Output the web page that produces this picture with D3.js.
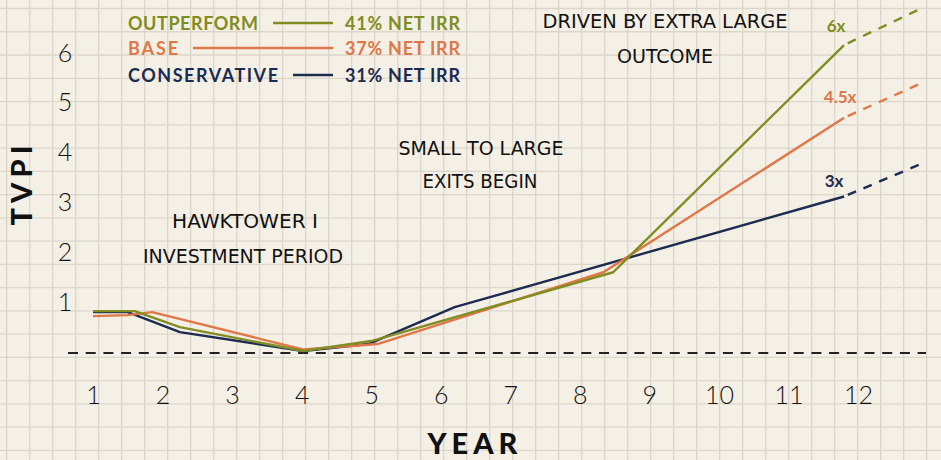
<!DOCTYPE html>
<html>
<head>
<meta charset="utf-8">
<script src="https://cdn.jsdelivr.net/npm/d3@7"></script>
<style>
  html, body { margin: 0; padding: 0; background: #f5f0e6; }
  svg { display: block; }
  .tick-label { font-family: Lato, "DejaVu Sans", sans-serif; font-weight: 300; font-size: 25px; fill: #111; }
  .legend { font-family: Lato, "DejaVu Sans", sans-serif; font-weight: 700; font-size: 18px; }
  .note { font-family: "Liberation Sans Narrow", "DejaVu Sans Condensed", sans-serif; font-size: 20px; fill: #111; }
  .axis-title { font-family: Lato, "DejaVu Sans", sans-serif; font-weight: 900; fill: #111; }
  .end-label { font-family: Lato, "DejaVu Sans", sans-serif; font-weight: 700; font-size: 17px; }
</style>
</head>
<body>
<div class="chart"></div>
<script>
// values
var yearTicks = [1, 2, 3, 4, 5, 6, 7, 8, 9, 10, 11, 12];
var tvpiTicks = [1, 2, 3, 4, 5, 6];

var outperformYears = [1, 1.6, 2.25, 4.02, 5, 8.48, 11.8];
var outperformTvpi = [0.8, 0.8, 0.48, 0, 0.2, 1.58, 6.14];
var baseYears = [1, 1.5, 1.85, 4.02, 5.09, 8.34, 11.8];
var baseTvpi = [0.7, 0.72, 0.78, 0.03, 0.14, 1.58, 4.68];
var conservativeYears = [1, 1.5, 2.25, 4.02, 4.96, 6.2, 11.8];
var conservativeTvpi = [0.78, 0.78, 0.38, 0, 0.14, 0.88, 3.1];

// projected (dashed) tails
var projectionYears = [11.8, 12.95];
var outperformProjection = [6.14, 6.9];
var baseProjection = [4.68, 5.4];
var conservativeProjection = [3.1, 3.78];

var scenarioNames = ["OUTPERFORM", "BASE", "CONSERVATIVE"];
var scenarioIrr = ["41% NET IRR", "37% NET IRR", "31% NET IRR"];
var endLabels = ["6x", "4.5x", "3x"];

var colors = ["#808d22", "#e07748", "#1b2b52"];

var width = 941, height = 460;

var svg = d3.select(".chart")
  .append("svg")
  .attr("width", width)
  .attr("height", height);

svg.append("rect")
  .attr("width", width)
  .attr("height", height)
  .attr("fill", "#f5f0e6");

// graph paper
var grid = svg.append("g").attr("stroke", "#dcd6ca").attr("stroke-width", 1.3);
d3.range(6.7, width, 23).forEach(function(x) {
  grid.append("line").attr("x1", x).attr("x2", x).attr("y1", 0).attr("y2", height);
});
d3.range(8.5, height, 23.26).forEach(function(y) {
  grid.append("line").attr("x1", 0).attr("x2", width).attr("y1", y).attr("y2", y);
});

var xScale = d3.scaleLinear().domain([1, 12]).range([93, 858]);
var yScale = d3.scaleLinear().domain([0, 6]).range([351, 52]);

// x tick labels
var xAxis = d3.axisBottom(xScale).tickValues(yearTicks).tickFormat(d3.format("d")).tickSize(0).tickPadding(0);
var gx = svg.append("g")
  .attr("transform", "translate(0,386)")
  .call(xAxis);
gx.select(".domain").remove();
gx.selectAll("text").attr("class", "tick-label").attr("dy", "0.72em").attr("font-size", null).attr("font-family", null).attr("fill", null);

// y tick labels
var yAxis = d3.axisLeft(yScale).tickValues(tvpiTicks).tickFormat(d3.format("d")).tickSize(0).tickPadding(0);
var gy = svg.append("g")
  .attr("transform", "translate(65,0)")
  .call(yAxis);
gy.select(".domain").remove();
gy.selectAll("text").attr("class", "tick-label").attr("text-anchor", "middle").attr("dy", "0.36em").attr("font-size", null).attr("font-family", null).attr("fill", null);

// dashed zero line
svg.append("line")
  .attr("x1", 68).attr("x2", 926)
  .attr("y1", yScale(0) + 2).attr("y2", yScale(0) + 2)
  .attr("stroke", "#222")
  .attr("stroke-width", 2)
  .attr("stroke-dasharray", "10,7.7");

var line = d3.line()
  .x(function(d) { return xScale(d[0]); })
  .y(function(d) { return yScale(d[1]); });

var series = [
  { years: conservativeYears, tvpi: conservativeTvpi, proj: conservativeProjection, color: colors[2] },
  { years: baseYears, tvpi: baseTvpi, proj: baseProjection, color: colors[1] },
  { years: outperformYears, tvpi: outperformTvpi, proj: outperformProjection, color: colors[0] }
];

series.forEach(function(s) {
  svg.append("path")
    .attr("d", line(d3.zip(s.years, s.tvpi)))
    .attr("fill", "none")
    .attr("stroke", s.color)
    .attr("stroke-width", 2.4)
    .attr("stroke-linejoin", "round");
  svg.append("path")
    .attr("d", line(d3.zip(projectionYears, s.proj)))
    .attr("fill", "none")
    .attr("stroke", s.color)
    .attr("stroke-width", 2.4)
    .attr("stroke-dasharray", "9,8")
    .attr("stroke-dashoffset", -4);
});

// end labels
var endOffsets = [[-8, -19], [-4, -21], [-10, -15]];
var endValues = [outperformTvpi[6], baseTvpi[6], conservativeTvpi[6]];
endLabels.forEach(function(t, i) {
  svg.append("text")
    .attr("class", "end-label")
    .attr("x", xScale(projectionYears[0]) + endOffsets[i][0])
    .attr("y", yScale(endValues[i]) + endOffsets[i][1])
    .attr("dy", "0.35em")
    .attr("text-anchor", "middle")
    .attr("fill", colors[i])
    .text(t);
});

// legend
var legendY = [30, 55, 82];
var nameWidths = [130, 50, 150];
scenarioNames.forEach(function(name, i) {
  svg.append("text")
    .attr("class", "legend")
    .attr("x", 128).attr("y", legendY[i])
    .attr("fill", colors[i])
    .attr("textLength", nameWidths[i])
    .attr("lengthAdjust", "spacing")
    .text(name);
  svg.append("line")
    .attr("x1", 128 + nameWidths[i] + 15).attr("x2", 333)
    .attr("y1", legendY[i] - 7).attr("y2", legendY[i] - 7)
    .attr("stroke", colors[i])
    .attr("stroke-width", 2.4);
  svg.append("text")
    .attr("class", "legend")
    .attr("x", 345).attr("y", legendY[i])
    .attr("fill", colors[i])
    .attr("textLength", 115)
    .attr("lengthAdjust", "spacing")
    .text(scenarioIrr[i]);
});

// hand written notes
var notes = [
  { t: "DRIVEN BY EXTRA LARGE", x: 665, y: 28, w: 245 },
  { t: "OUTCOME", x: 665, y: 63, w: 96 },
  { t: "SMALL TO LARGE", x: 481, y: 155, w: 165 },
  { t: "EXITS BEGIN", x: 480, y: 188, w: 115 },
  { t: "HAWKTOWER I", x: 245, y: 228, w: 146 },
  { t: "INVESTMENT PERIOD", x: 243, y: 263, w: 200 }
];
notes.forEach(function(n) {
  svg.append("text")
    .attr("class", "note")
    .attr("x", n.x - n.w / 2).attr("y", n.y)
    .attr("textLength", n.w)
    .attr("lengthAdjust", "spacingAndGlyphs")
    .text(n.t);
});

// axis titles
svg.append("text")
  .attr("class", "axis-title")
  .attr("transform", "translate(32,183) rotate(-90)")
  .attr("text-anchor", "middle")
  .attr("font-size", 29)
  .attr("letter-spacing", 5)
  .text("TVPI");

svg.append("text")
  .attr("class", "axis-title")
  .attr("x", 475).attr("y", 454)
  .attr("text-anchor", "middle")
  .attr("font-size", 29)
  .attr("letter-spacing", 5)
  .text("YEAR");
</script>
</body>
</html>
